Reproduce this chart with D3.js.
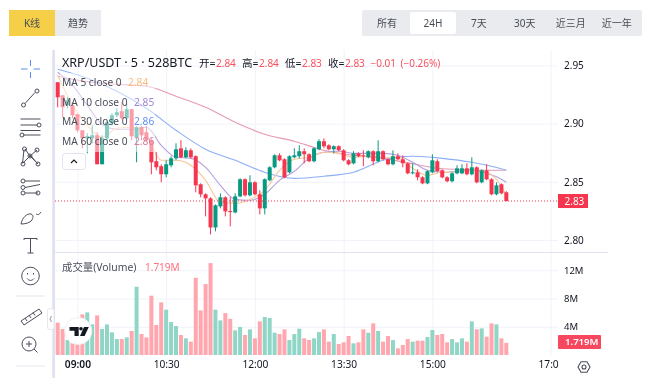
<!DOCTYPE html>
<html>
<head>
<meta charset="utf-8">
<script src="https://cdn.jsdelivr.net/npm/d3@7"></script>
<style>
  html, body { margin: 0; background: #fff; }
  svg { filter: blur(0.35px); }
  text { font-family: 'Noto Sans', 'Noto Sans CJK SC', sans-serif; fill: #131722; }
  .axis .domain { display: none; }
  .axis line { stroke: #f0f3fa; }
</style>
</head>
<body>
<div id="chart"></div>
<script>
const opens = [2.9356,2.9244,2.9158,2.9158,2.9081,2.8943,2.8874,2.8874,2.8900,2.8651,2.8874,2.9003,2.9072,2.9107,2.9047,2.9124,2.8883,2.8969,2.8926,2.8857,2.8677,2.8634,2.8565,2.8642,2.8702,2.8788,2.8711,2.8771,2.8720,2.8479,2.8393,2.8358,2.8108,2.8289,2.8367,2.8249,2.8237,2.8375,2.8522,2.8384,2.8496,2.8393,2.8272,2.8513,2.8625,2.8728,2.8694,2.8582,2.8711,2.8720,2.8763,2.8737,2.8677,2.8780,2.8849,2.8814,2.8780,2.8806,2.8771,2.8685,2.8659,2.8745,2.8728,2.8711,2.8763,2.8677,2.8763,2.8694,2.8651,2.8720,2.8694,2.8659,2.8573,2.8582,2.8539,2.8487,2.8582,2.8677,2.8599,2.8539,2.8505,2.8573,2.8573,2.8616,2.8565,2.8625,2.8496,2.8599,2.8522,2.8393,2.8479,2.8410]
const highs = [2.9356,2.9244,2.9227,2.9184,2.9081,2.8943,2.8917,2.8986,2.8926,2.8900,2.9029,2.9090,2.9132,2.9184,2.9175,2.9124,2.8978,2.8978,2.8978,2.8874,2.8754,2.8651,2.8685,2.8720,2.8831,2.8857,2.8797,2.8788,2.8728,2.8487,2.8401,2.8367,2.8306,2.8401,2.8375,2.8367,2.8401,2.8530,2.8530,2.8556,2.8505,2.8427,2.8530,2.8634,2.8737,2.8745,2.8702,2.8728,2.8788,2.8814,2.8788,2.8745,2.8797,2.8866,2.8874,2.8823,2.8814,2.8814,2.8780,2.8694,2.8763,2.8754,2.8771,2.8771,2.8771,2.8857,2.8771,2.8702,2.8771,2.8745,2.8728,2.8668,2.8659,2.8608,2.8548,2.8599,2.8737,2.8694,2.8608,2.8548,2.8582,2.8642,2.8651,2.8659,2.8711,2.8634,2.8608,2.8651,2.8530,2.8496,2.8487,2.8419]
const lows = [2.9141,2.9055,2.9132,2.9047,2.8926,2.8788,2.8745,2.8831,2.8651,2.8651,2.8857,2.8986,2.9055,2.9038,2.9029,2.8857,2.8668,2.8857,2.8849,2.8565,2.8599,2.8496,2.8539,2.8625,2.8685,2.8702,2.8702,2.8702,2.8410,2.8367,2.8203,2.8048,2.8074,2.8272,2.8203,2.8117,2.8229,2.8367,2.8375,2.8375,2.8384,2.8220,2.8220,2.8505,2.8616,2.8677,2.8530,2.8573,2.8702,2.8702,2.8659,2.8668,2.8668,2.8771,2.8788,2.8771,2.8745,2.8763,2.8677,2.8642,2.8651,2.8711,2.8634,2.8702,2.8642,2.8668,2.8685,2.8642,2.8642,2.8685,2.8625,2.8565,2.8565,2.8513,2.8479,2.8479,2.8573,2.8582,2.8530,2.8496,2.8496,2.8565,2.8565,2.8556,2.8556,2.8487,2.8487,2.8513,2.8384,2.8384,2.8393,2.8332]
const closes = [2.9227,2.9141,2.9201,2.9072,2.8943,2.8874,2.8892,2.8900,2.8651,2.8874,2.9012,2.9072,2.9098,2.9047,2.9124,2.8892,2.8969,2.8900,2.8857,2.8668,2.8625,2.8565,2.8651,2.8702,2.8780,2.8711,2.8771,2.8711,2.8470,2.8393,2.8358,2.8108,2.8298,2.8367,2.8246,2.8242,2.8375,2.8522,2.8384,2.8496,2.8393,2.8272,2.8522,2.8625,2.8728,2.8685,2.8539,2.8720,2.8728,2.8763,2.8737,2.8677,2.8788,2.8849,2.8806,2.8780,2.8806,2.8771,2.8685,2.8651,2.8745,2.8720,2.8720,2.8763,2.8677,2.8763,2.8694,2.8651,2.8720,2.8694,2.8659,2.8573,2.8582,2.8539,2.8487,2.8591,2.8685,2.8591,2.8539,2.8505,2.8573,2.8616,2.8616,2.8565,2.8625,2.8496,2.8599,2.8522,2.8393,2.8470,2.8401,2.8335]
const volumes = [4.58,3.68,2.12,1.65,1.9,5.75,6.04,4.34,5.61,3.68,4.34,3.21,2.26,2.26,2.5,3.4,9.67,2.97,2.5,8.4,4.25,7.45,6.42,4.67,4.1,2.83,2.36,1.89,10.94,6.32,10.05,13.02,6.42,4.9,5.94,5.14,3.49,3.96,2.83,3.63,2.36,4.76,5.38,5.24,3.16,2.97,3.63,2.12,2.97,3.73,2.36,2.12,2.36,3.25,3.63,1.89,2.97,1.56,1.79,2.69,1.65,1.79,3.63,3.16,4.48,3.4,1.89,2.69,2.12,0.94,1.42,2.26,1.89,2.03,2.03,2.55,3.54,2.83,2.97,1.79,2.26,1.79,2.36,1.89,4.76,3.63,3.77,2.59,4.48,4.34,2.36,1.72]

const ma5Bars = [0,3,6,9,12,15,18,21,24,27,30,33,36,39,42,45,48,51,54,57,60,63,66,69,72,75,78,81,84,87,90,91]
const ma5 = [2.9417,2.9158,2.8986,2.8883,2.8960,2.8969,2.8900,2.8685,2.8685,2.8642,2.8513,2.8324,2.8315,2.8349,2.8427,2.8599,2.8694,2.8711,2.8754,2.8745,2.8711,2.8720,2.8711,2.8711,2.8616,2.8556,2.8582,2.8582,2.8599,2.8582,2.8462,2.8384]
const ma10 = [2.9442,2.9331,2.9158,2.8995,2.8952,2.8952,2.8969,2.8814,2.8711,2.8702,2.8625,2.8470,2.8349,2.8341,2.8393,2.8513,2.8591,2.8702,2.8754,2.8763,2.8745,2.8745,2.8745,2.8728,2.8668,2.8599,2.8582,2.8591,2.8599,2.8573,2.8522,2.8496]
const slowBars = [0,6,12,18,24,30,36,42,48,54,60,66,72,78,84,90,91]
const ma30 = [2.9468,2.9391,2.9279,2.9132,2.8943,2.8780,2.8685,2.8582,2.8530,2.8548,2.8582,2.8685,2.8720,2.8702,2.8668,2.8612,2.8599]
const ma60 = [2.9408,2.9361,2.9339,2.9322,2.9236,2.9141,2.9012,2.8909,2.8849,2.8771,2.8728,2.8702,2.8655,2.8612,2.8602,2.8599,2.8599]

const priceTicks = [2.80, 2.85, 2.90, 2.95]
const volumeTicks = [4, 8, 12]
const timeTickBars = [4, 22, 40, 58, 76, 100]
const timeTickLabels = ['09:00', '10:30', '12:00', '13:30', '15:00', '17:0']
const rangeLabels = ['所有', '24H', '7天', '30天', '近三月', '近一年']
const ohlcLegend = [['开=', '2.84'], ['高=', '2.84'], ['低=', '2.83'], ['收=', '2.83']]
const maLegend = [
  ['MA 5 close 0', '2.84', '#f9b97f'],
  ['MA 10 close 0', '2.85', '#a084d8'],
  ['MA 30 close 0', '2.86', '#5f90f5'],
  ['MA 60 close 0', '2.86', '#de7ba0']
]

const upColor = '#089981'
const downColor = '#f5364e'
const chartLeft = 55
const chartRight = 551
const gridColor = '#e0e3eb'

const x = d3.scaleLinear().domain([0, 100]).range([57.7, 550.7])
const y = d3.scaleLinear().domain([2.80, 2.95]).range([240, 65.5])
const yVol = d3.scaleLinear().domain([0, 12]).range([355, 270.3])

const isUp = i => closes[i] >= opens[i]
const barColor = i => isUp(i) ? upColor : downColor

const svg = d3.select('#chart').append('svg')
    .attr('width', 650)
    .attr('height', 391)
    .style('display', 'block')

const label = (parent, px, py, str, size, color, anchor) => {
  const t = parent.append('text')
      .attr('x', px)
      .attr('y', py)
      .attr('dy', '0.35em')
      .style('font-size', `${size}px`)
      .style('fill', color || '#131722')
      .text(str)
  if (anchor) t.style('text-anchor', anchor)
  return t
}

// tab buttons on top
const tabs = svg.append('g')
tabs.append('rect').attr('x', 9).attr('y', 10).attr('width', 46).attr('height', 26).attr('fill', '#f5cf47')
tabs.append('rect').attr('x', 55).attr('y', 10).attr('width', 46).attr('height', 26).attr('fill', '#e9ebef')
label(tabs, 32, 23, 'K线', 10, '#474d57', 'middle')
label(tabs, 78, 23, '趋势', 10, '#474d57', 'middle')

tabs.append('rect').attr('x', 362).attr('y', 10).attr('width', 280).attr('height', 26).attr('rx', 2).attr('fill', '#e9ebef')
tabs.append('rect').attr('x', 410).attr('y', 12).attr('width', 46).attr('height', 22).attr('rx', 2).attr('fill', '#fff')
rangeLabels.forEach((d, i) => label(tabs, 387 + i * 45.95, 23, d, 10, '#474d57', 'middle'))

// frame
svg.append('rect').attr('x', 52.3).attr('y', 50).attr('width', 2.7).attr('height', 328).attr('fill', '#dfe2ee')

// axes, the tick lines double as the grid
const xAxis = svg.append('g')
    .attr('class', 'axis axis--x')
    .attr('transform', 'translate(0,355)')
    .call(d3.axisBottom(x).tickValues(timeTickBars).tickSize(0).tickPadding(6).tickFormat((d, i) => timeTickLabels[i]))
xAxis.selectAll('.tick line').attr('y2', -305)
xAxis.selectAll('.tick text')
    .style('font-size', '10.2px')
    .style('font-weight', (d, i) => i === 0 ? 600 : 400)
xAxis.selectAll('.tick').filter(d => d === 100).select('text')
    .attr('x', 7.5)
    .style('text-anchor', 'end')

const yAxis = svg.append('g')
    .attr('class', 'axis axis--y')
    .attr('transform', `translate(${chartRight},0)`)
    .call(d3.axisRight(y).tickValues(priceTicks).tickSize(7).tickPadding(6).tickFormat(d3.format('.2f')))
yAxis.selectAll('.tick line').attr('x1', chartLeft - chartRight)
yAxis.selectAll('.tick text').style('font-size', '10px')

const volAxis = svg.append('g')
    .attr('class', 'axis axis--vol')
    .attr('transform', `translate(${chartRight},0)`)
    .call(d3.axisRight(yVol).tickValues(volumeTicks).tickSize(7).tickPadding(6).tickFormat(d => `${d}M`))
volAxis.selectAll('.tick line').attr('x1', chartLeft - chartRight)
volAxis.selectAll('.tick text').style('font-size', '9.5px')

svg.append('line')
    .attr('x1', chartLeft).attr('x2', 608)
    .attr('y1', 252.5).attr('y2', 252.5)
    .attr('stroke', gridColor)

// volume
svg.append('g').selectAll('rect')
  .data(volumes)
  .join('rect')
    .attr('x', (d, i) => x(i) - 2)
    .attr('width', 4)
    .attr('y', d => yVol(d))
    .attr('height', d => yVol(0) - yVol(d))
    .attr('fill', (d, i) => isUp(i) ? '#8fd6c6' : '#ffa6ae')

// moving averages
const line = d3.line()
    .x(d => x(d[0]))
    .y(d => y(d[1]))
    .curve(d3.curveMonotoneX)

const drawMa = (bars, values, color) => svg.append('path')
    .attr('d', line(bars.map((b, i) => [b, values[i]])))
    .attr('fill', 'none')
    .attr('stroke', color)
    .attr('stroke-width', 1.1)

drawMa(slowBars, ma60, '#e799b4')
drawMa(slowBars, ma30, '#8cafF8')
drawMa(ma5Bars, ma10, '#b5a0de')
drawMa(ma5Bars, ma5, '#fac598')

// candles
const candles = svg.append('g').selectAll('g')
  .data(closes)
  .join('g')

candles.append('line')
    .attr('x1', (d, i) => x(i))
    .attr('x2', (d, i) => x(i))
    .attr('y1', (d, i) => y(highs[i]))
    .attr('y2', (d, i) => y(lows[i]))
    .attr('stroke', (d, i) => barColor(i))

candles.append('rect')
    .attr('x', (d, i) => x(i) - 2)
    .attr('width', 4)
    .attr('y', (d, i) => y(Math.max(opens[i], closes[i])))
    .attr('height', (d, i) => Math.max(1, Math.abs(y(opens[i]) - y(closes[i]))))
    .attr('fill', (d, i) => barColor(i))

// last price
const lastY = y(closes[closes.length - 1])
svg.append('line')
    .attr('x1', chartLeft).attr('x2', 558)
    .attr('y1', lastY).attr('y2', lastY)
    .attr('stroke', downColor)
    .attr('stroke-dasharray', '1 2')

svg.append('rect').attr('x', 558).attr('y', lastY - 7).attr('width', 30).attr('height', 14).attr('fill', downColor)
label(svg, 564.5, lastY, '2.83', 10, '#fff')

svg.append('rect').attr('x', 558).attr('y', 335).attr('width', 43).attr('height', 14).attr('rx', 1).attr('fill', '#f7485f')
label(svg, 565, 342, '1.719M', 9.6, '#fff').style('font-weight', 600)

// legend veil, candles behind the text go pale
svg.append('rect').attr('x', 60).attr('y', 73).attr('width', 95).attr('height', 79).attr('fill', '#fff').attr('opacity', 0.5)

const legendRed = '#f7525f'
label(svg, 62, 63, 'XRP/USDT · 5 · 528BTC', 12.5, '#131722')
ohlcLegend.forEach((d, i) => {
  const px = 199 + i * 43
  label(svg, px, 63, d[0], 10.5, '#131722')
  label(svg, px + 17, 63, d[1], 10, legendRed)
})
label(svg, 370.5, 63, '−0.01', 10, legendRed)
label(svg, 400.5, 63, '(−0.26%)', 10, legendRed)

maLegend.forEach((d, i) => {
  const py = 82.5 + i * 19.7
  label(svg, 62, py, d[0], 10.2, '#4a4e5a')
  label(svg, i === 0 ? 128 : 134, py, d[1], 10.2, d[2])
})

svg.append('rect').attr('x', 62.5).attr('y', 153.5).attr('width', 23).attr('height', 16).attr('rx', 3)
    .attr('fill', '#fff').attr('stroke', gridColor)
svg.append('path').attr('d', 'M71 163l3-3 3 3').attr('fill', 'none').attr('stroke', '#131722').attr('stroke-width', 1.1)

label(svg, 62, 267, '成交量(Volume)', 10.4, '#4a4e5a')
label(svg, 145, 267, '1.719M', 10, '#ff6f7f')

// TradingView badge
svg.append('circle').attr('cx', 78.3).attr('cy', 331).attr('r', 13.5)
    .attr('fill', '#fff').attr('stroke', '#eef0f5')
svg.append('path')
    .attr('d', 'M69.500 327h9.200v9h-4.200v-5.200h-5z M80 336l4-9h4.800l-4.200 9z')
    .attr('fill', '#131722')
svg.append('circle').attr('cx', 81).attr('cy', 328.800).attr('r', 1.800).attr('fill', '#131722')

// collapse handle
svg.append('rect').attr('x', 47.5).attr('y', 308.5).attr('width', 6.5).attr('height', 21).attr('rx', 2)
    .attr('fill', '#fff').attr('stroke', '#e6e8ee')
svg.append('path').attr('d', 'M51.5 316l-1.5 3 1.5 3').attr('fill', 'none').attr('stroke', '#9598a1')

// settings
svg.append('path')
    .attr('d', 'M578 367l3-5.2h6l3 5.2-3 5.2h-6z')
    .attr('fill', 'none').attr('stroke', '#4a4e5a').attr('stroke-width', 1.1)
svg.append('circle').attr('cx', 584).attr('cy', 367).attr('r', 2).attr('fill', 'none').attr('stroke', '#4a4e5a').attr('stroke-width', 1.1)

// drawing tools
const tools = svg.append('g').attr('fill', 'none').attr('stroke', '#4a4e5a').attr('stroke-width', 1)
tools.append('path').attr('d', 'M30.5 60v6 M30.5 72v6 M21 69h6.5 M33.5 69h6.5').attr('stroke', '#5b8cf5')
tools.append('path').attr('d', 'M25 103.5L35 92.5')
tools.append('circle').attr('cx', 23.5).attr('cy', 105).attr('r', 2)
tools.append('circle').attr('cx', 37).attr('cy', 91).attr('r', 2)
tools.append('path').attr('d', 'M20.5 119h20 M20.5 125h17 M23 135h17.5 M20.5 130.5h20')
tools.append('circle').attr('cx', 39).attr('cy', 125).attr('r', 2)
tools.append('circle').attr('cx', 22).attr('cy', 135).attr('r', 2)
tools.append('path').attr('d', 'M24 149.5l-1.5 14 M25 149l5 7 8 8 M23 163l7-7 7-6 M31 156l6 7')
tools.append('circle').attr('cx', 24.5).attr('cy', 149).attr('r', 2)
tools.append('circle').attr('cx', 37).attr('cy', 150).attr('r', 2)
tools.append('circle').attr('cx', 30).attr('cy', 156).attr('r', 2)
tools.append('circle').attr('cx', 23).attr('cy', 164).attr('r', 2)
tools.append('circle').attr('cx', 38).attr('cy', 164).attr('r', 2)
tools.append('path').attr('d', 'M25 181h15 M25 193h13 M25 187.5l15-3')
tools.append('circle').attr('cx', 23).attr('cy', 181).attr('r', 2)
tools.append('circle').attr('cx', 23).attr('cy', 187.5).attr('r', 2)
tools.append('circle').attr('cx', 23).attr('cy', 193).attr('r', 2)
tools.append('circle').attr('cx', 38).attr('cy', 193).attr('r', 2)
tools.append('path').attr('d', 'M21 224c1-6 6-11 10-10 3 1 2 4 1 6-2 3-7 4-11 4z M36 214c2 1 3 1 5-2')
tools.append('path').attr('d', 'M24 240v-1.5h13v1.5 M30.5 238.5v14.5 M27.5 253h6')
tools.append('circle').attr('cx', 30.5).attr('cy', 276).attr('r', 8.8)
tools.append('path').attr('d', 'M27 278.5c2 2.5 5 2.500 7 0')
tools.append('path').attr('d', 'M27.5 273v1.500 M33.500 273v1.500')
tools.append('path').attr('d', 'M21 321l18-12 3 4-18 12z M25 318l2 3 M29 315l2 3 M33 312.500l2 3')
tools.append('circle').attr('cx', 29).attr('cy', 344).attr('r', 7)
tools.append('path').attr('d', 'M26 344h6 M29 341v6 M34 349l3.500 3.500')

svg.append('path').attr('d', 'M16 296h29 M16 366h29').attr('stroke', '#e6e8ee').attr('stroke-width', 1.2)
</script>
</body>
</html>
